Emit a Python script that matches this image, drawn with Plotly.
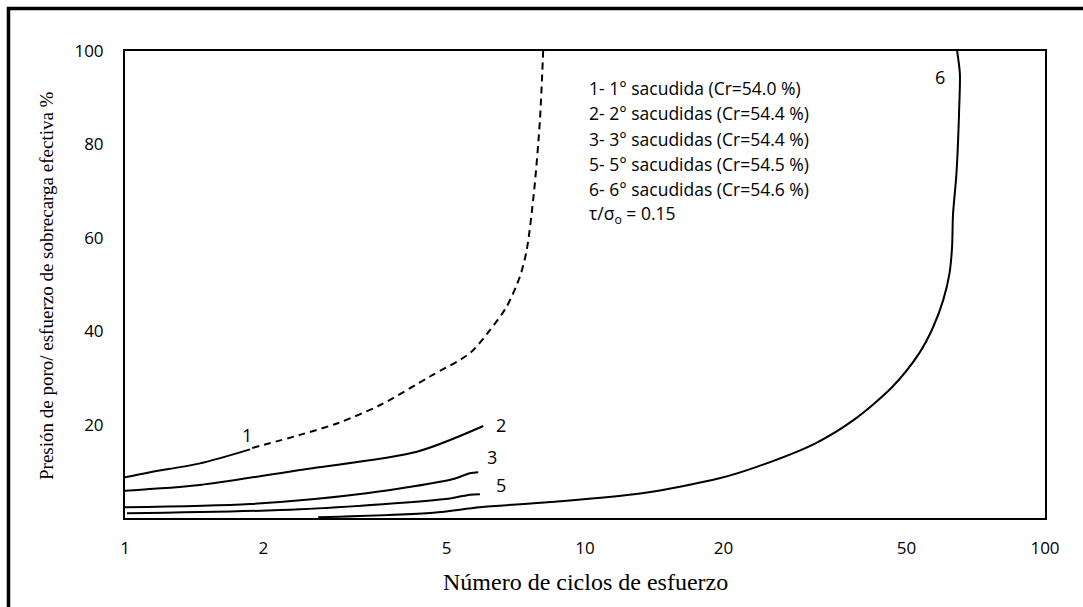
import plotly.graph_objects as go
import numpy as np

# ---- data ----
c1_solid_x = [1.0, 1.133, 1.456, 1.87]
c1_solid_y = [8.7, 9.8, 11.7, 14.7]

c1_dash_x = [1.89, 2.4, 2.9, 3.59, 4.6, 5.62, 6.22, 6.75, 7.22, 7.47, 7.75, 7.98, 8.11]
c1_dash_y = [15.0, 17.8, 20.3, 24.2, 30.3, 35.3, 40.3, 45.2, 51.7, 57.4, 70.0, 85.2, 100.0]

c2_x = [1.0, 1.456, 2.40, 4.31, 6.01]
c2_y = [5.85, 7.07, 10.3, 14.2, 19.7]

c3_x = [1.0, 1.87, 3.35, 5.17, 5.62, 5.86]
c3_y = [2.3, 3.0, 5.3, 8.35, 9.6, 9.8]

c5_x = [1.01, 2.40, 5.09, 5.62, 5.91]
c5_y = [1.0, 1.86, 4.2, 5.0, 5.1]

c6_x = [2.63, 4.68, 5.9, 8.4, 13.3, 19.6, 23.7, 31.7, 38.4, 46.6, 53.3, 57.2, 60.1, 62.0, 62.8, 63.1, 64.2, 65.1, 65.3, 64.4]
c6_y = [0.15, 1.14, 2.3, 3.4, 5.3, 8.5, 11.0, 16.0, 21.0, 28.1, 35.3, 41.0, 46.7, 52.4, 58.0, 65.0, 73.8, 88.1, 95.2, 100.0]

curve_labels = ["1", "2", "3", "5", "6"]
curve_label_x = [1.84, 6.58, 6.27, 6.56, 59.0]
curve_label_y = [17.8, 19.9, 13.0, 7.07, 94.5]

legend_lines = [
    "1- 1° sacudida (Cr=54.0 %)",
    "2- 2° sacudidas (Cr=54.4 %)",
    "3- 3° sacudidas (Cr=54.4 %)",
    "5- 5° sacudidas (Cr=54.5 %)",
    "6- 6° sacudidas (Cr=54.6 %)",
    "τ/σ<sub>o</sub> = 0.15",
]

x_ticks = [1, 2, 5, 10, 20, 50, 100]
y_ticks = [20, 40, 60, 80, 100]

x_title = "Número de ciclos de esfuerzo"
y_title = "Presión de poro/ esfuerzo de sobrecarga efectiva %"

# ---- figure ----
W, H = 1083, 607
ML, MR, MT, MB = 125, 38, 51, 89
PW, PH = W - ML - MR, H - MT - MB

fig = go.Figure()
line_style = dict(color="black", width=2, shape="spline", smoothing=0.8)
for xs, ys in [(c1_solid_x, c1_solid_y), (c2_x, c2_y), (c3_x, c3_y), (c5_x, c5_y), (c6_x, c6_y)]:
    fig.add_trace(go.Scatter(x=xs, y=ys, mode="lines", line=line_style, showlegend=False, hoverinfo="skip"))
fig.add_trace(go.Scatter(x=c1_dash_x, y=c1_dash_y, mode="lines",
                         line=dict(color="black", width=2, dash="7px,5px", shape="spline", smoothing=0.8),
                         showlegend=False, hoverinfo="skip"))

tick_font = dict(family="Open Sans", size=17, color="black")
fig.update_xaxes(type="log", range=[0, 2], tickvals=x_ticks, ticktext=[str(v) for v in x_ticks],
                 showgrid=False, zeroline=False, showline=True, linecolor="black", linewidth=2,
                 mirror=True, ticks="", tickfont=tick_font, ticklabelstandoff=14)
fig.update_yaxes(range=[0, 100], tickvals=y_ticks, ticktext=[str(v) for v in y_ticks],
                 showgrid=False, zeroline=False, showline=True, linecolor="black", linewidth=2,
                 mirror=True, ticks="", tickfont=tick_font, ticklabelstandoff=16)

annotations = []
for t, xv, yv in zip(curve_labels, curve_label_x, curve_label_y):
    annotations.append(dict(x=np.log10(xv), y=yv, xref="x", yref="y", text=t, showarrow=False,
                            font=dict(family="Open Sans", size=18, color="black")))

lx0 = (587 - ML) / PW
ly_top = 88
for i, t in enumerate(legend_lines):
    py = ly_top + i * 25.3
    annotations.append(dict(x=lx0, y=(H - MB - py) / PH, xref="paper", yref="paper", text=t,
                            showarrow=False, xanchor="left", yanchor="middle",
                            font=dict(family="Open Sans", size=17.5, color="black")))

annotations.append(dict(x=(585 - ML) / PW, y=(H - MB - 582) / PH, xref="paper", yref="paper",
                        text=x_title, showarrow=False, xanchor="center", yanchor="middle",
                        font=dict(family="Liberation Serif", size=24, color="black")))
annotations.append(dict(x=(46 - ML) / PW, y=(H - MB - 286) / PH, xref="paper", yref="paper",
                        text=y_title, showarrow=False, xanchor="center", yanchor="middle", textangle=-90,
                        font=dict(family="Liberation Serif", size=19, color="black")))

shapes = [dict(type="rect", xref="paper", yref="paper",
               x0=(8.5 - ML) / PW, y1=(H - MB - 8.5) / PH, x1=1.2, y0=-0.4,
               line=dict(color="black", width=3.5), fillcolor="rgba(0,0,0,0)", layer="above")]

fig.update_layout(width=W, height=H, margin=dict(l=ML, r=MR, t=MT, b=MB, pad=0),
                  paper_bgcolor="white", plot_bgcolor="white",
                  annotations=annotations, shapes=shapes, showlegend=False)

fig.write_html("out.html")
